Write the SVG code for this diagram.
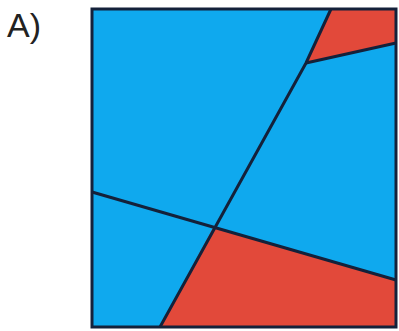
<svg xmlns="http://www.w3.org/2000/svg" width="399" height="331" viewBox="0 0 399 331">
<style>
.blue{fill:#0fa9ee}
.red{fill:#e2493a}
.edge{fill:none;stroke:#14213a;stroke-width:3;stroke-linejoin:miter}
.lbl{font-family:"Liberation Sans",Arial,sans-serif;font-size:34px;fill:#222}
</style>
<rect width="399" height="331" fill="#fff"/>
<text class="lbl" x="7" y="37">A)</text>
<g id="regions">
<rect id="square" class="blue" x="92" y="9" width="304" height="318"/>
<polygon id="red-top" class="red" points="331,9 396,9 396,43 306,63"/>
<polygon id="red-bottom" class="red" points="213,228 396,280 396,327 160,327"/>
</g>
<g id="connectors">
<polyline class="edge" points="160,327 306,63 331,9"/>
<line class="edge" x1="306" y1="63" x2="396" y2="43"/>
<line class="edge" x1="92" y1="192" x2="396" y2="280"/>
<rect class="edge" x="92" y="9" width="304" height="318"/>
</g>
</svg>
